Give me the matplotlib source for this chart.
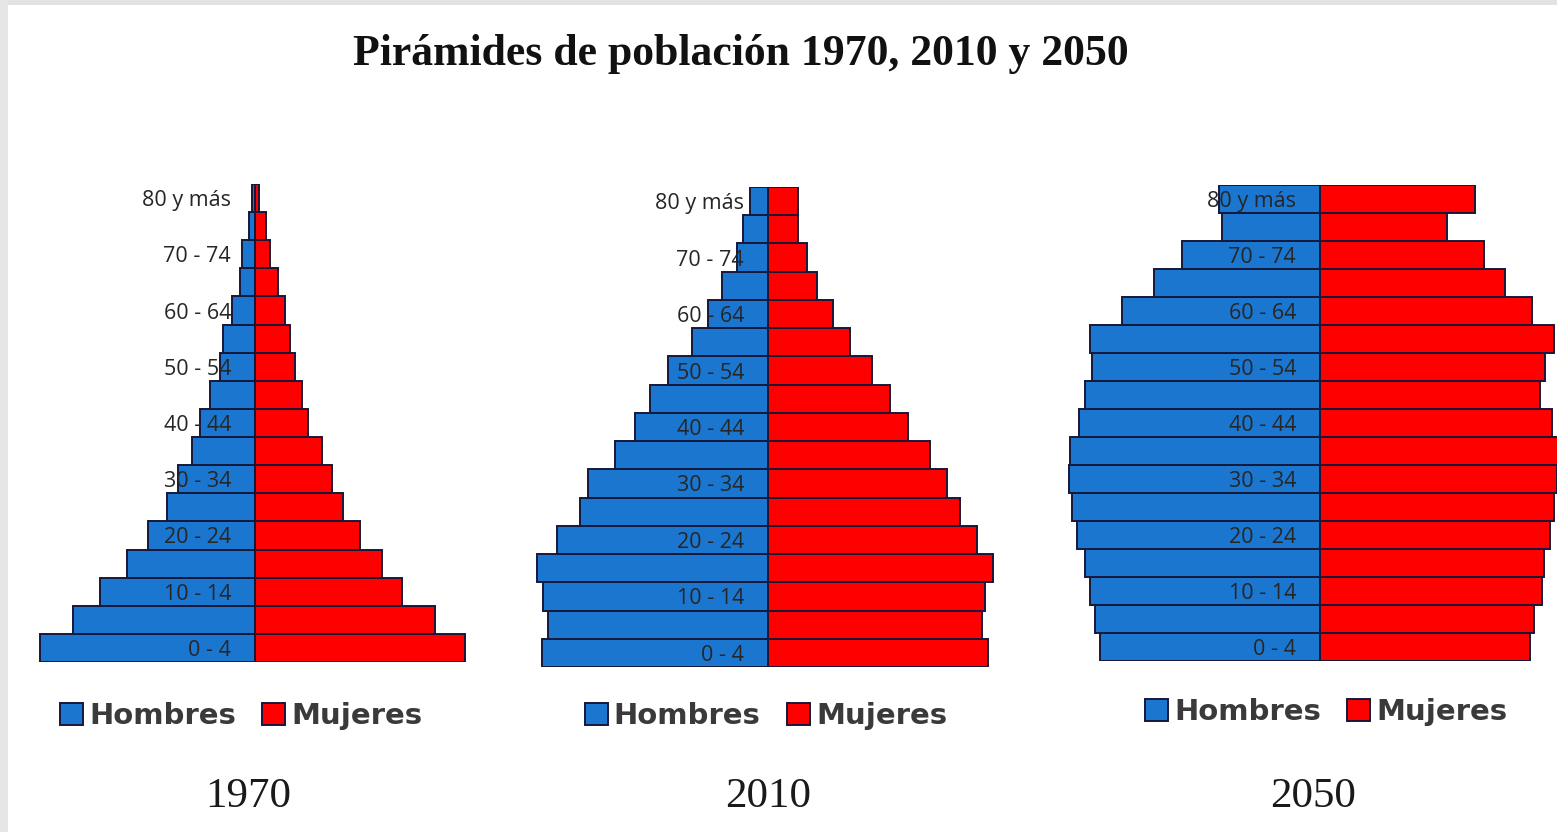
import matplotlib
matplotlib.use("Agg")
import matplotlib.pyplot as plt
from matplotlib.patches import Rectangle

W, H = 1557, 832

age_groups = ["0 - 4", "5 - 9", "10 - 14", "15 - 19", "20 - 24", "25 - 29", "30 - 34",
              "35 - 39", "40 - 44", "45 - 49", "50 - 54", "55 - 59", "60 - 64",
              "65 - 69", "70 - 74", "75 - 79", "80 y más"]

years = ["1970", "2010", "2050"]

hombres_1970 = [215, 182, 155, 128, 107, 88, 77, 63, 55, 45, 35, 32, 23, 15, 13, 6, 3]
mujeres_1970 = [210, 180, 147, 127, 105, 88, 77, 67, 53, 47, 40, 35, 30, 23, 15, 11, 4]

hombres_2010 = [226, 220, 225, 231, 211, 188, 180, 153, 133, 118, 100, 76, 60, 46, 31, 25, 18]
mujeres_2010 = [220, 214, 217, 225, 209, 192, 179, 162, 140, 122, 104, 82, 65, 49, 39, 30, 30]

hombres_2050 = [220, 225, 230, 235, 243, 248, 251, 250, 241, 235, 228, 230, 198, 166, 138, 98, 101]
mujeres_2050 = [210, 214, 222, 224, 230, 234, 237, 240, 232, 220, 225, 234, 212, 185, 164, 127, 155]

hombres = [hombres_1970, hombres_2010, hombres_2050]
mujeres = [mujeres_1970, mujeres_2010, mujeres_2050]

legend_labels = ["Hombres", "Mujeres"]
title = "Pirámides de población 1970, 2010 y 2050"

# layout (pixels)
centers = [255, 768, 1320]
bar_tops = [184, 187, 185]
bar_bottoms = [662, 667, 661]
legend_y = [716, 716, 712]
legend_x = [241, 766, 1326]
year_x = [248, 768, 1313]
half = 262

blue = "#1b76d0"
red = "#ff0000"
edge = "#16183a"

fig = plt.figure(figsize=(W / 100, H / 100), dpi=100)
fig.patch.set_facecolor("white")

# frame bands
fig.add_artist(Rectangle((0, 1 - 5 / H), 1, 5 / H, transform=fig.transFigure,
                         facecolor="#e2e2e2", edgecolor="none"))
fig.add_artist(Rectangle((0, 0), 8 / W, 1, transform=fig.transFigure,
                         facecolor="#e6e6e6", edgecolor="none"))

ypos = list(range(len(age_groups)))

for i in range(3):
    c = centers[i]
    top, bot = bar_tops[i], bar_bottoms[i]
    ax = fig.add_axes([(c - half) / W, 1 - bot / H, 2 * half / W, (bot - top) / H])
    ax.patch.set_alpha(0)
    hb = ax.barh(ypos, [-v for v in hombres[i]], height=1.0, color=blue,
                 edgecolor=edge, linewidth=1.4, label=legend_labels[0])
    mb = ax.barh(ypos, mujeres[i], height=1.0, color=red,
                 edgecolor=edge, linewidth=1.4, label=legend_labels[1])
    ax.set_xlim(-half, half)
    ax.set_ylim(-0.5, len(age_groups) - 0.5)
    for s in ax.spines.values():
        s.set_visible(False)
    ax.spines["left"].set_position(("data", -24))
    ax.set_xticks([])
    ax.set_yticks(ypos[::2])
    ax.set_yticklabels(age_groups[::2], fontsize=15.5, color="#262626",
                       family=["Open Sans", "DejaVu Sans"])
    ax.tick_params(axis="y", length=0, pad=0)
    for lab in ax.get_yticklabels():
        lab.set_zorder(5)

    leg = fig.legend(handles=[hb, mb], labels=legend_labels, loc="center",
                     bbox_to_anchor=(legend_x[i] / W, 1 - legend_y[i] / H),
                     ncol=2, frameon=False, handlelength=0.8, handleheight=0.8,
                     handletextpad=0.2, columnspacing=0.9,
                     prop={"family": "DejaVu Sans", "weight": "bold", "size": 21})
    for t in leg.get_texts():
        t.set_color("#3a3a3a")

    fig.text(year_x[i] / W, 1 - 797 / H, years[i], ha="center", va="center",
             fontsize=31, family="Liberation Serif", color="#1a1a1a")

fig.text(741 / W, 1 - 54 / H, title, ha="center", va="center", fontsize=31.5,
         family="Liberation Serif", weight="bold", color="#111111")

fig.savefig("out.png", dpi=100)
